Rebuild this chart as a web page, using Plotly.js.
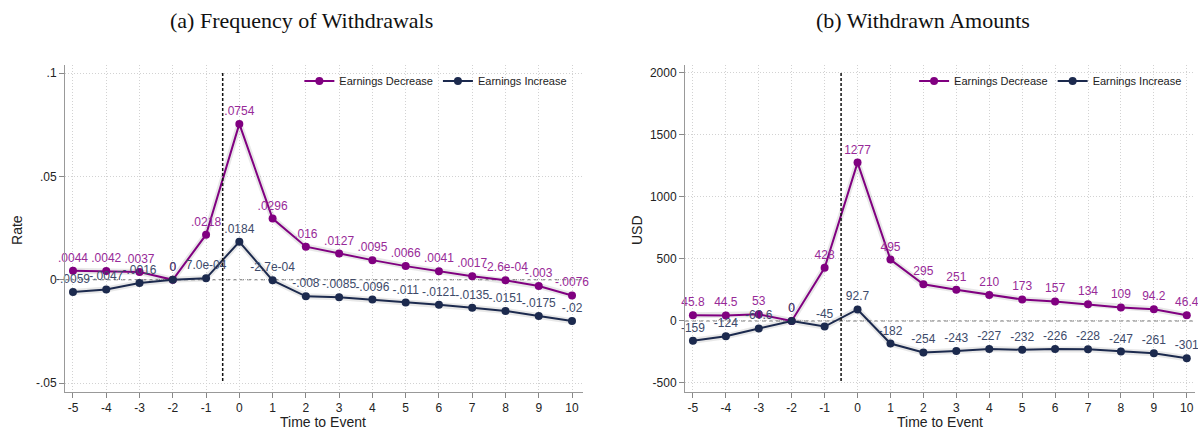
<!DOCTYPE html>
<html>
<head>
<meta charset="utf-8">
<script src="https://cdn.plot.ly/plotly-3.0.1.min.js"></script>
<style>html,body{margin:0;padding:0;background:#fff;}#chart{width:1198px;height:430px;}</style>
</head>
<body>
<div id="chart"></div>
<script>
const timeToEvent = [-5,-4,-3,-2,-1,0,1,2,3,4,5,6,7,8,9,10];

const rateDecrease = [0.0044,0.0042,0.0037,0,0.0218,0.0754,0.0296,0.016,0.0127,0.0095,0.0066,0.0041,0.0017,-0.00026,-0.003,-0.0076];
const rateIncrease = [-0.0059,-0.0047,-0.0016,0,0.0007,0.0184,-0.00027,-0.008,-0.0085,-0.0096,-0.011,-0.0121,-0.0135,-0.0151,-0.0175,-0.02];
const rateDecreaseLabels = [".0044",".0042",".0037","0",".0218",".0754",".0296",".016",".0127",".0095",".0066",".0041",".0017","-2.6e-04","-.003","-.0076"];
const rateIncreaseLabels = ["-.0059","-.0047","-.0016","0","7.0e-04",".0184","-2.7e-04","-.008","-.0085","-.0096","-.011","-.0121","-.0135","-.0151","-.0175","-.02"];

const usdDecrease = [45.8,44.5,53,0,428,1277,495,295,251,210,173,157,134,109,94.2,46.4];
const usdIncrease = [-159,-124,-60.6,0,-45,92.7,-182,-254,-243,-227,-232,-226,-228,-247,-261,-301];

const rateTickVals = [-0.05,0,0.05,0.1];
const rateTickText = ["-.05","0",".05",".1"];
const usdTickVals = [-500,0,500,1000,1500,2000];
const usdTickText = ["-500","0","500","1000","1500","2000"];
const xTickVals = timeToEvent;

const seriesNames = ["Earnings Decrease","Earnings Increase"];

const purple = "#800080", purpleText = "#982a98";
const navy = "#1c2a4e", navyText = "#3d4a6a";
const sans = "Liberation Sans, Arial, sans-serif";

function shadow(x, y, xa, ya) {
  return {x, y, xaxis: xa, yaxis: ya, mode: "lines", showlegend: false, hoverinfo: "skip",
    line: {color: "rgba(110,110,110,0.16)", width: 6}};
}
function series(x, y, labels, name, color, tcolor, xa, ya, leg) {
  return {x, y, xaxis: xa, yaxis: ya, name, legend: leg, mode: "lines+markers+text",
    text: labels, textposition: "top center", cliponaxis: false,
    textfont: {family: sans, size: 12, color: tcolor},
    line: {color, width: 2}, marker: {color, size: 8}};
}

const data = [
  shadow(timeToEvent, rateDecrease, "x", "y"),
  shadow(timeToEvent, rateIncrease, "x", "y"),
  shadow(timeToEvent, usdDecrease, "x2", "y2"),
  shadow(timeToEvent, usdIncrease, "x2", "y2"),
  series(timeToEvent, rateDecrease, rateDecreaseLabels, seriesNames[0], purple, purpleText, "x", "y", "legend"),
  series(timeToEvent, rateIncrease, rateIncreaseLabels, seriesNames[1], navy, navyText, "x", "y", "legend"),
  series(timeToEvent, usdDecrease, usdDecrease.map(String), seriesNames[0], purple, purpleText, "x2", "y2", "legend2"),
  series(timeToEvent, usdIncrease, usdIncrease.map(String), seriesNames[1], navy, navyText, "x2", "y2", "legend2")
];

const xCommon = {tickvals: xTickVals, ticktext: xTickVals.map(String), ticks: "outside", ticklen: 5,
  tickcolor: "#888", showline: true, linecolor: "#999", linewidth: 1, zeroline: false,
  showgrid: true, gridcolor: "#d2d2d2", griddash: "1px,2px", gridwidth: 1,
  tickfont: {family: sans, size: 12, color: "#222"}};
const yCommon = {ticks: "outside", ticklen: 5, tickcolor: "#888", showline: true, linecolor: "#999",
  linewidth: 1, zeroline: false, showgrid: true, gridcolor: "#d2d2d2", griddash: "1px,2px", gridwidth: 1,
  tickfont: {family: sans, size: 12, color: "#222"}, domain: [0, 1]};

const legendCommon = {orientation: "h", xanchor: "right", yanchor: "middle", bgcolor: "rgba(0,0,0,0)",
  font: {family: sans, size: 11, color: "#222"}, itemwidth: 30, tracegroupgap: 0};

const layout = {
  width: 1198, height: 430,
  margin: {l: 65, r: 3, t: 65, b: 38},
  paper_bgcolor: "#fff", plot_bgcolor: "#fff",
  showlegend: true,
  xaxis: Object.assign({}, xCommon, {domain: [0, 0.4584], range: [-5.24, 10.33], anchor: "y"}),
  yaxis: Object.assign({}, yCommon, {range: [-0.0543, 0.1039], tickvals: rateTickVals, ticktext: rateTickText, anchor: "x"}),
  xaxis2: Object.assign({}, xCommon, {domain: [0.5487, 1], range: [-5.24, 10.25], anchor: "y2"}),
  yaxis2: Object.assign({}, yCommon, {range: [-573, 2064], tickvals: usdTickVals, ticktext: usdTickText, anchor: "x2"}),
  legend: Object.assign({}, legendCommon, {x: 0.449, y: 0.951}),
  legend2: Object.assign({}, legendCommon, {x: 0.993, y: 0.951}),
  shapes: [
    {type: "line", xref: "x domain", yref: "y", x0: 0, x1: 1, y0: 0, y1: 0, line: {color: "#707070", width: 1, dash: "4px,3px"}, layer: "below"},
    {type: "line", xref: "x2 domain", yref: "y2", x0: 0, x1: 1, y0: 0, y1: 0, line: {color: "#707070", width: 1, dash: "4px,3px"}, layer: "below"},
    {type: "line", xref: "x", yref: "y", x0: -0.5, x1: -0.5, y0: 0.1, y1: -0.05, line: {color: "#111", width: 1.5, dash: "3px,2px"}},
    {type: "line", xref: "x2", yref: "y2", x0: -0.5, x1: -0.5, y0: 2000, y1: -500, line: {color: "#111", width: 1.5, dash: "3px,2px"}}
  ],
  annotations: [
    {text: "(a) Frequency of Withdrawals", xref: "paper", yref: "paper", x: 0.2097, y: 1.1376, showarrow: false, xanchor: "center", yanchor: "middle", font: {family: "Liberation Serif, DejaVu Serif, serif", size: 22, color: "#111"}},
    {text: "(b) Withdrawn Amounts", xref: "paper", yref: "paper", x: 0.7593, y: 1.1376, showarrow: false, xanchor: "center", yanchor: "middle", font: {family: "Liberation Serif, DejaVu Serif, serif", size: 22, color: "#111"}},
    {text: "Rate", xref: "paper", yref: "paper", x: -0.0425, y: 0.4954, textangle: -90, showarrow: false, xanchor: "center", yanchor: "middle", font: {family: sans, size: 14, color: "#222"}},
    {text: "USD", xref: "paper", yref: "paper", x: 0.5062, y: 0.4954, textangle: -90, showarrow: false, xanchor: "center", yanchor: "middle", font: {family: sans, size: 14, color: "#222"}},
    {text: "Time to Event", xref: "paper", yref: "paper", x: 0.2283, y: -0.0917, showarrow: false, xanchor: "center", yanchor: "middle", font: {family: sans, size: 14, color: "#222"}},
    {text: "Time to Event", xref: "paper", yref: "paper", x: 0.7743, y: -0.0917, showarrow: false, xanchor: "center", yanchor: "middle", font: {family: sans, size: 14, color: "#222"}}
  ]
};

Plotly.newPlot("chart", data, layout, {displayModeBar: false, staticPlot: true});
</script>
</body>
</html>
